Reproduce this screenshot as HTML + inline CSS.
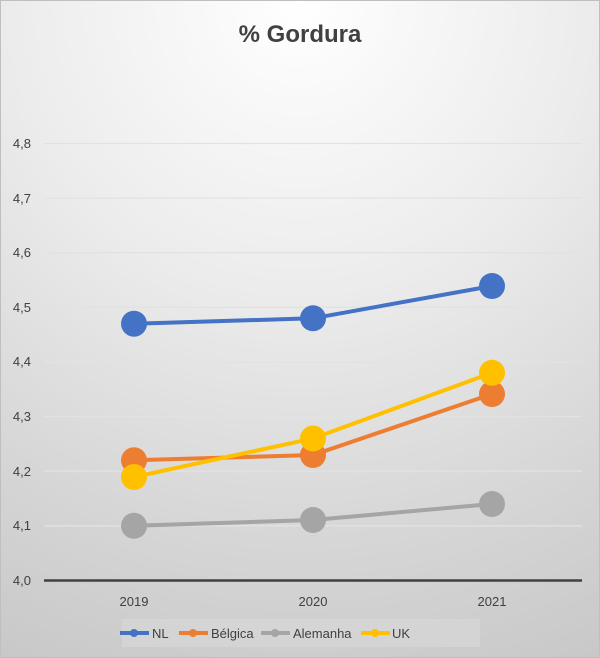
<!DOCTYPE html>
<html><head><meta charset="utf-8"><style>
html,body{margin:0;padding:0}
body{width:600px;height:658px;overflow:hidden}
.c{position:relative;width:598px;height:656px;border:1px solid #bfbfbf;background:radial-gradient(ellipse 120% 110% at 50% 0%,#ffffff 0%,#ececec 40%,#d6d6d6 75%,#c8c8c8 100%);font-family:"Liberation Sans",sans-serif}
</style></head><body><div class="c">
<svg width="598" height="656" viewBox="1 1 598 656" style="position:absolute;left:0;top:0">
<text x="300" y="42" text-anchor="middle" font-size="24" font-weight="bold" fill="#404040" font-family="Liberation Sans, sans-serif">% Gordura</text>
<g stroke="#e2e2e2" stroke-width="1.3">
<line x1="44" x2="582" y1="143.5" y2="143.5"/>
<line x1="44" x2="582" y1="198.1" y2="198.1"/>
<line x1="44" x2="582" y1="252.7" y2="252.7"/>
<line x1="44" x2="582" y1="307.3" y2="307.3"/>
<line x1="44" x2="582" y1="362" y2="362"/>
<line x1="44" x2="582" y1="416.6" y2="416.6"/>
<line x1="44" x2="582" y1="471.2" y2="471.2"/>
<line x1="44" x2="582" y1="525.8" y2="525.8"/>
</g>
<line x1="44" x2="582" y1="580.5" y2="580.5" stroke="#404040" stroke-width="2.5"/>
<g font-size="13" fill="#404040" text-anchor="end" font-family="Liberation Sans, sans-serif">
<text x="31" y="148">4,8</text><text x="31" y="203">4,7</text><text x="31" y="257">4,6</text><text x="31" y="312">4,5</text><text x="31" y="366">4,4</text><text x="31" y="421">4,3</text><text x="31" y="476">4,2</text><text x="31" y="530">4,1</text><text x="31" y="585">4,0</text>
</g>
<g font-size="13" fill="#404040" text-anchor="middle" font-family="Liberation Sans, sans-serif">
<text x="134" y="606">2019</text><text x="313" y="606">2020</text><text x="492" y="606">2021</text>
</g>
<g stroke-width="4" fill="none">
<polyline points="134,323.7 313,318.3 492,286" stroke="#4472c4"/>
<polyline points="134,460.3 313,455 492,394" stroke="#ed7d31"/>
<polyline points="134,525.8 313,520 492,504" stroke="#a5a5a5"/>
<polyline points="134,477 313,438.5 492,372.8" stroke="#ffc000"/>
</g>
<g fill="#4472c4"><circle cx="134" cy="323.7" r="13"/><circle cx="313" cy="318.3" r="13"/><circle cx="492" cy="286" r="13"/></g>
<g fill="#ed7d31"><circle cx="134" cy="460.3" r="13"/><circle cx="313" cy="455" r="13"/><circle cx="492" cy="394" r="13"/></g>
<g fill="#a5a5a5"><circle cx="134" cy="525.8" r="13"/><circle cx="313" cy="520" r="13"/><circle cx="492" cy="504" r="13"/></g>
<g fill="#ffc000"><circle cx="134" cy="477" r="13"/><circle cx="313" cy="438.5" r="13"/><circle cx="492" cy="372.8" r="13"/></g>
<rect x="122" y="619" width="358" height="28" fill="#d9d9d9" opacity="0.6"/>
<g stroke-width="4">
<line x1="120" x2="149" y1="633" y2="633" stroke="#4472c4"/><circle cx="134" cy="633" r="4" fill="#4472c4"/>
<line x1="179" x2="208" y1="633" y2="633" stroke="#ed7d31"/><circle cx="193" cy="633" r="4" fill="#ed7d31"/>
<line x1="261" x2="290" y1="633" y2="633" stroke="#a5a5a5"/><circle cx="275" cy="633" r="4" fill="#a5a5a5"/>
<line x1="361" x2="390" y1="633" y2="633" stroke="#ffc000"/><circle cx="375" cy="633" r="4" fill="#ffc000"/>
</g>
<g font-size="13" fill="#404040" font-family="Liberation Sans, sans-serif">
<text x="152" y="638">NL</text><text x="211" y="638">Bélgica</text><text x="293" y="638">Alemanha</text><text x="392" y="638">UK</text>
</g>
</svg>
</div></body></html>
